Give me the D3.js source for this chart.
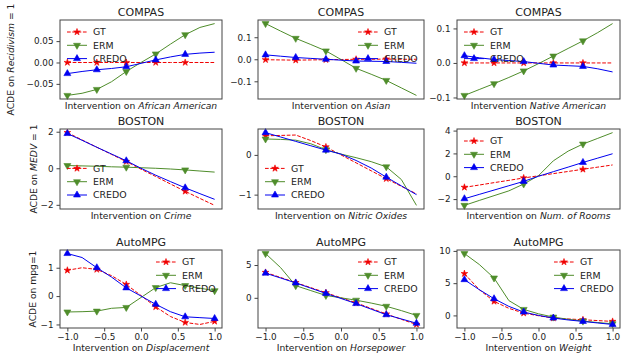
<!DOCTYPE html>
<html>
<head>
<meta charset="utf-8">
<script src="https://cdn.jsdelivr.net/npm/d3@7"></script>
<style>
    body { margin: 0; background: #fff; }
    svg { font-family: "DejaVu Sans", sans-serif; }
</style>
</head>
<body>
<svg id="chart" width="627" height="354"></svg>
<script>
// intervention values on the x axis
const xs = [-1.0, -0.8, -0.6, -0.4, -0.2, 0.0, 0.2, 0.4, 0.6, 0.8, 1.0];
const xTicks = [-1.0, -0.5, 0.0, 0.5, 1.0];
const seriesNames = ['GT', 'ERM', 'CREDO'];

// COMPAS
const afrGT = [0, 0, 0, 0, 0, 0, 0, 0, 0, 0, 0];
const afrERM = [-0.077, -0.072, -0.063, -0.045, -0.021, 0.0, 0.020, 0.043, 0.065, 0.082, 0.091];
const afrCREDO = [-0.026, -0.021, -0.017, -0.014, -0.010, -0.002, 0.006, 0.013, 0.019, 0.022, 0.024];

const asiaGT = [-0.002, -0.003, -0.004, -0.003, -0.002, -0.001, 0.0, 0.0, 0.001, 0.0, 0.0];
const asiaERM = [0.162, 0.128, 0.095, 0.067, 0.038, -0.001, -0.041, -0.068, -0.096, -0.130, -0.164];
const asiaCREDO = [0.020, 0.014, 0.008, 0.004, 0.0, -0.004, -0.008, -0.009, -0.010, -0.014, -0.018];

const natGT = [0, 0, 0, 0, 0, 0, 0, 0, 0, 0, 0];
const natERM = [-0.094, -0.077, -0.060, -0.042, -0.023, -0.002, 0.020, 0.042, 0.064, 0.088, 0.114];
const natCREDO = [0.021, 0.015, 0.010, 0.007, 0.004, -0.001, -0.006, -0.008, -0.010, -0.017, -0.026];

// BOSTON
const crimeGT = [1.95, 1.55, 1.15, 0.76, 0.37, -0.05, -0.45, -0.86, -1.26, -1.65, -2.03];
const crimeERM = [0.15, 0.13, 0.11, 0.08, 0.06, 0.03, 0.0, -0.04, -0.09, -0.15, -0.21];
const crimeCREDO = [1.90, 1.53, 1.15, 0.78, 0.41, 0.0, -0.38, -0.73, -1.07, -1.39, -1.70];

const noxGT = [0.48, 0.49, 0.50, 0.36, 0.20, 0.0, -0.20, -0.40, -0.60, -0.79, -0.98];
const noxERM = [0.40, 0.39, 0.37, 0.28, 0.13, 0.02, -0.07, -0.17, -0.30, -0.62, -1.27];
const noxCREDO = [0.56, 0.45, 0.34, 0.23, 0.12, 0.02, -0.14, -0.33, -0.56, -0.78, -1.0];

const roomGT = [-0.97, -0.77, -0.56, -0.36, -0.15, 0.04, 0.23, 0.42, 0.61, 0.80, 0.99];
const roomERM = [-2.55, -2.12, -1.70, -1.28, -0.68, 0.05, 1.35, 2.2, 2.82, 3.32, 3.82];
const roomCREDO = [-1.97, -1.59, -1.21, -0.83, -0.45, 0.0, 0.40, 0.80, 1.21, 1.59, 1.97];

// AutoMPG
const dispGT = [0.91, 1.00, 0.94, 0.72, 0.41, 0.02, -0.38, -0.72, -0.93, -1.0, -0.89];
const dispERM = [-0.56, -0.55, -0.53, -0.43, -0.40, -0.05, 0.30, 0.47, 0.37, 0.28, 0.19];
const dispCREDO = [1.50, 1.36, 1.00, 0.67, 0.29, 0.0, -0.29, -0.55, -0.73, -0.76, -0.79];

const hpGT = [3.87, 3.10, 2.32, 1.55, 0.77, 0.0, -0.77, -1.62, -2.47, -3.28, -4.06];
const hpERM = [6.75, 4.6, 1.85, 1.1, 0.36, 0.0, -0.36, -0.8, -1.29, -1.95, -2.68];
const hpCREDO = [3.76, 3.02, 2.27, 1.47, 0.67, -0.1, -0.88, -1.73, -2.58, -3.22, -3.87];

const wGT = [6.48, 4.0, 2.18, 1.1, 0.36, -0.05, -0.41, -0.55, -0.67, -0.80, -0.93];
const wERM = [9.59, 7.9, 5.8, 2.3, 0.93, 0.25, -0.26, -0.6, -0.88, -1.1, -1.3];
const wCREDO = [5.54, 4.0, 2.59, 1.4, 0.52, 0.0, -0.41, -0.7, -0.93, -1.17, -1.40];

// layout
const cols = [[60, 222], [258, 424], [457, 620]];
const rows = [[20, 99], [129, 209], [250, 328]];
const rowMarks = [[0, 2, 4, 6, 8], [0, 4, 8], [0, 2, 4, 6, 8, 10]];
const yLabels = [
    { x: 11, parts: [['ACDE on ', false], ['Recidivism', true], [' = 1', false]] },
    { x: 34, parts: [['ACDE on ', false], ['MEDV', true], [' = 1', false]] },
    { x: 33, parts: [['ACDE on mpg=1', false]] }
];

const panels = [
    { title: 'COMPAS', pre: 'Intervention on ', feat: 'African American', data: [afrGT, afrERM, afrCREDO], yTicks: [-0.05, 0, 0.05], fmt: '.2f', legend: 'ul' },
    { title: 'COMPAS', pre: 'Intervention on ', feat: 'Asian', data: [asiaGT, asiaERM, asiaCREDO], yTicks: [-0.1, 0, 0.1], fmt: '.1f', legend: 'ur' },
    { title: 'COMPAS', pre: 'Intervention ', feat: 'Native American', data: [natGT, natERM, natCREDO], yTicks: [-0.1, 0, 0.1], fmt: '.1f', legend: 'ul' },
    { title: 'BOSTON', pre: 'Intervention on ', feat: 'Crime', data: [crimeGT, crimeERM, crimeCREDO], yTicks: [-2, 0, 2], fmt: 'd', legend: 'll' },
    { title: 'BOSTON', pre: 'Intervention on ', feat: 'Nitric Oxides', data: [noxGT, noxERM, noxCREDO], yTicks: [-1, 0], fmt: 'd', legend: 'll' },
    { title: 'BOSTON', pre: 'Intervention on ', feat: 'Num. of Rooms', data: [roomGT, roomERM, roomCREDO], yTicks: [-2, 0, 2, 4], fmt: 'd', legend: 'ul' },
    { title: 'AutoMPG', pre: 'Intervention on ', feat: 'Displacement', data: [dispGT, dispERM, dispCREDO], yTicks: [-1, 0, 1], fmt: 'd', legend: 'ur' },
    { title: 'AutoMPG', pre: 'Intervention on ', feat: 'Horsepower', data: [hpGT, hpERM, hpCREDO], yTicks: [0, 5], fmt: 'd', legend: 'ur' },
    { title: 'AutoMPG', pre: 'Intervention on ', feat: 'Weight', data: [wGT, wERM, wCREDO], yTicks: [0, 5, 10], fmt: 'd', legend: 'ur' }
];

// style for each series: GT, ERM, CREDO
const styles = [
    { color: '#f00000', dash: '3.7,1.6', symbol: d3.symbolStar, size: 14, rot: 0 },
    { color: '#4f8d2b', dash: null, symbol: d3.symbolTriangle, size: 21, rot: 180 },
    { color: '#0000f0', dash: null, symbol: d3.symbolTriangle, size: 21, rot: 0 }
];

const svg = d3.select('#chart');
const axisColor = '#444';
const textColor = '#222';

function drawMarker(g, st, x, y) {
    g.append('path')
        .attr('d', d3.symbol().type(st.symbol).size(st.size)())
        .attr('transform', `translate(${x},${y}) rotate(${st.rot})`)
        .attr('fill', st.color)
        .attr('stroke', st.color)
        .attr('stroke-width', 0.6);
}

function drawPanel(p, i) {
    const ci = i % 3, ri = Math.floor(i / 3);
    const [x0, x1] = cols[ci];
    const [y0, y1] = rows[ri];

    const x = d3.scaleLinear().domain([-1.1, 1.1]).range([x0, x1]);

    // matplotlib style auto limits: data extent plus 5%
    const all = p.data.flat();
    const lo = d3.min(all), hi = d3.max(all);
    const pad = (hi - lo) * 0.05;
    const y = d3.scaleLinear().domain([lo - pad, hi + pad]).range([y1, y0]);

    const g = svg.append('g');

    // series
    const line = d3.line().x((d, k) => x(xs[k])).y(d => y(d));
    p.data.forEach((vals, s) => {
        const st = styles[s];
        g.append('path')
            .datum(vals)
            .attr('d', line)
            .attr('fill', 'none')
            .attr('stroke', st.color)
            .attr('stroke-width', 1)
            .attr('stroke-dasharray', st.dash);
        rowMarks[ri].forEach(k => drawMarker(g, st, x(xs[k]), y(vals[k])));
    });

    // frame
    g.append('rect')
        .attr('x', x0).attr('y', y0)
        .attr('width', x1 - x0).attr('height', y1 - y0)
        .attr('fill', 'none')
        .attr('stroke', axisColor)
        .attr('stroke-width', 1);

    // y axis
    const yAxis = g.append('g')
        .attr('transform', `translate(${x0},0)`)
        .call(d3.axisLeft(y).tickValues(p.yTicks).tickFormat(d3.format(p.fmt)).tickSizeOuter(0).tickSize(3.5).tickPadding(3));
    yAxis.select('.domain').remove();
    yAxis.selectAll('line').attr('stroke', axisColor);
    yAxis.selectAll('text').attr('font-size', 8.8).attr('fill', textColor).attr('font-family', 'DejaVu Sans');

    // x axis only on the bottom row
    let labelY = y1 + 9.5;
    if (ri === 2) {
        const xAxis = g.append('g')
            .attr('transform', `translate(0,${y1})`)
            .call(d3.axisBottom(x).tickValues(xTicks).tickFormat(d3.format('.1f')).tickSizeOuter(0).tickSize(3.5).tickPadding(2.5));
        xAxis.select('.domain').remove();
        xAxis.selectAll('line').attr('stroke', axisColor);
        xAxis.selectAll('text').attr('font-size', 8.8).attr('fill', textColor).attr('font-family', 'DejaVu Sans');
        labelY = 351;
    }

    // title
    g.append('text')
        .attr('x', (x0 + x1) / 2)
        .attr('y', y0 - 4)
        .attr('text-anchor', 'middle')
        .attr('font-size', 11)
        .attr('fill', textColor)
        .text(p.title);

    // x label
    const xl = g.append('text')
        .attr('x', (x0 + x1) / 2)
        .attr('y', labelY)
        .attr('text-anchor', 'middle')
        .attr('font-size', 9.2)
        .attr('fill', textColor);
    xl.append('tspan').text(p.pre);
    xl.append('tspan').attr('font-style', 'italic').text(p.feat);

    // legend, no frame
    const rowH = 13.3;
    const hx = p.legend === 'ur' ? x1 - 66 : x0 + 7;
    const firstY = p.legend === 'll' ? y1 - 14 - 2 * rowH : y0 + 12;
    seriesNames.forEach((name, s) => {
        const st = styles[s];
        const ly = firstY + s * rowH;
        g.append('line')
            .attr('x1', hx).attr('x2', hx + 20)
            .attr('y1', ly).attr('y2', ly)
            .attr('stroke', st.color)
            .attr('stroke-width', 1)
            .attr('stroke-dasharray', st.dash);
        drawMarker(g, st, hx + 10, ly);
        g.append('text')
            .attr('x', hx + 26)
            .attr('y', ly + 3.4)
            .attr('font-size', 9.4)
            .attr('fill', textColor)
            .text(name);
    });
}

panels.forEach(drawPanel);

// row y labels
yLabels.forEach((lab, ri) => {
    const cy = (rows[ri][0] + rows[ri][1]) / 2;
    const t = svg.append('text')
        .attr('transform', `translate(${lab.x},${cy}) rotate(-90)`)
        .attr('text-anchor', 'middle')
        .attr('dy', '0.35em')
        .attr('font-size', 9.2)
        .attr('fill', textColor);
    lab.parts.forEach(([txt, it]) => {
        t.append('tspan').attr('font-style', it ? 'italic' : null).text(txt);
    });
});
</script>
</body>
</html>
